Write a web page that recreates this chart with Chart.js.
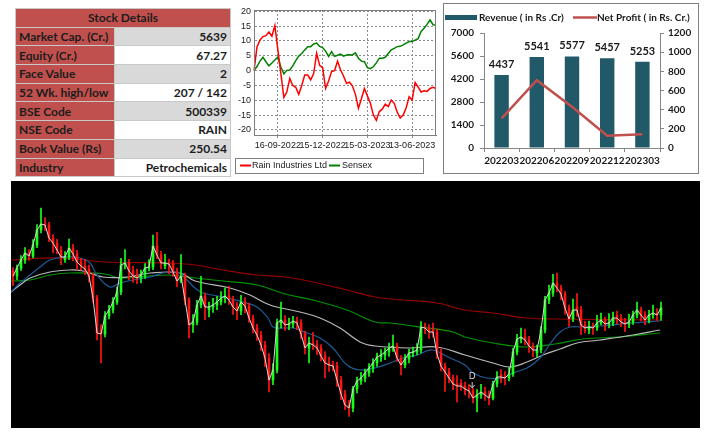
<!DOCTYPE html>
<html>
<head>
<meta charset="utf-8">
<script src="https://cdn.jsdelivr.net/npm/chart.js@4.4.1/dist/chart.umd.min.js"></script>
<style>
  body { margin: 0; background: #fff; width: 723px; height: 439px; position: relative; overflow: hidden; }
  #details { position: absolute; left: 15px; top: 8px; width: 215px; border-collapse: collapse; table-layout: fixed;
             font: bold 12px Lato, sans-serif; color: #1c1c1c; }
  #details th, #details td { height: 17.7px; padding: 0 3px; border: 1px solid #c8c8c8; white-space: nowrap; overflow: hidden; }
  #details th { background: #c0504d; text-align: center; }
  #details td.k { background: #c0504d; text-align: left; }
  #details td.v { text-align: right; }
  #details tr.g td.v { background: #d9d9d9; }
  #details tr.w td.v { background: #fff; }
  #perfBox { position: absolute; left: 235px; top: 0; }
  #resultBox { position: absolute; left: 443px; top: 3px; width: 256px; height: 171px; border: 1px solid #7f7f7f; box-sizing: border-box; }
  #priceChart { position: absolute; left: 11px; top: 181px; background: #000; }
</style>
</head>
<body>
<table id="details"><colgroup><col style="width:99px"><col style="width:116px"></colgroup><tbody></tbody></table>
<div id="perfBox"><canvas id="perfChart" width="210" height="180"></canvas></div>
<div id="resultBox"><canvas id="resultChart" width="254" height="169"></canvas></div>
<canvas id="priceChart" width="689" height="247"></canvas>
<script>
// ---- stock details table
const detailLabels = ['Market Cap. (Cr.)', 'Equity (Cr.)', 'Face Value', '52 Wk. high/low', 'BSE Code', 'NSE Code', 'Book Value (Rs)', 'Industry'];
const detailValues = ['5639', '67.27', '2', '207 / 142', '500339', 'RAIN', '250.54', 'Petrochemicals'];

// ---- relative performance (% change)
const perfDates = [
  '30-07-2022','05-08-2022','11-08-2022','17-08-2022','23-08-2022','29-08-2022','04-09-2022','10-09-2022','16-09-2022','22-09-2022',
  '28-09-2022','04-10-2022','10-10-2022','16-10-2022','22-10-2022','28-10-2022','03-11-2022','09-11-2022','15-11-2022','21-11-2022',
  '27-11-2022','03-12-2022','09-12-2022','15-12-2022','21-12-2022','27-12-2022','02-01-2023','08-01-2023','14-01-2023','20-01-2023',
  '26-01-2023','01-02-2023','07-02-2023','13-02-2023','19-02-2023','25-02-2023','03-03-2023','09-03-2023','15-03-2023','21-03-2023',
  '27-03-2023','02-04-2023','08-04-2023','14-04-2023','20-04-2023','26-04-2023','02-05-2023','08-05-2023','14-05-2023','20-05-2023',
  '26-05-2023','01-06-2023','07-06-2023','13-06-2023','19-06-2023','25-06-2023','01-07-2023','07-07-2023','13-07-2023','19-07-2023',
  '25-07-2023','31-07-2023'
];
const perfTickDates = ['16-09-2022', '15-12-2022', '15-03-2023', '13-06-2023'];
const perfYTicks = [-20, -15, -10, -5, 0, 5, 10, 15, 20];
const rainPct = [
  0.0, 8.0, 10.3, 11.5, 11.8, 13.0, 11.6, 15.2, 7.0, -1.0,
  -9.0, -7.2, -2.6, -5.0, -5.6, -8.0, -5.0, -1.5, -1.5, -3.1,
  -1.0, 5.8, 1.8, 1.0, -6.0, -3.5, -0.3, 0.0, 3.2, 0.3,
  -1.8, -4.3, -3.9, -5.2, -8.0, -12.7, -9.5, -6.0, -8.5, -11.0,
  -14.9, -16.8, -13.8, -13.0, -11.3, -12.1, -9.9, -11.0, -14.0, -16.0,
  -15.0, -12.5, -8.8, -9.9, -4.0, -5.5, -7.2, -6.8, -7.0, -6.0,
  -5.6, -6.0
];
const sensexPct = [
  0.0, 1.4, 3.2, 4.5, 3.0, 1.6, 2.6, 3.6, 4.6, 1.2,
  -1.1, 0.1, 0.2, 1.6, 3.4, 4.9, 5.8, 7.0, 8.1, 8.1,
  9.0, 9.3, 8.2, 7.8, 6.6, 4.8, 6.4, 4.8, 5.2, 5.6,
  4.9, 5.3, 5.4, 5.3, 6.0, 4.2, 3.2, 3.0, 1.0, 0.7,
  1.3, 2.6, 4.2, 4.2, 4.5, 5.8, 7.0, 7.5, 8.1, 8.2,
  8.7, 9.3, 9.8, 9.8, 10.3, 10.8, 13.2, 14.3, 15.6, 17.1,
  15.5, 15.4
];

// ---- quarterly results
const quarters = ['202203', '202206', '202209', '202212', '202303'];
const revenue = [4437, 5541, 5577, 5457, 5253];
const netProfit = [310, 708, 430, 128, 143];
const revenueTicks = [0, 1400, 2800, 4200, 5600, 7000];
const profitTicks = [0, 200, 400, 600, 800, 1000, 1200];

// ---- daily candles (price)
const candleOpen = [
  184.5, 183.1, 185.5, 187.9, 190.0, 189.1, 192.4, 196.9, 198.7, 198.4,
  194.5, 193.0, 190.9, 188.0, 188.8, 191.5, 189.7, 187.3, 186.1, 185.2,
  183.1, 176.5, 166.8, 165.7, 171.1, 172.9, 175.3, 178.3, 186.4, 187.0,
  184.6, 183.1, 182.5, 183.4, 185.5, 185.8, 192.1, 189.4, 186.2, 187.0,
  186.7, 184.3, 181.6, 183.1, 175.9, 168.4, 169.3, 174.4, 177.1, 173.0,
  173.8, 174.4, 175.3, 176.5, 177.1, 175.9, 173.8, 172.6, 175.3, 174.1,
  170.5, 167.5, 165.4, 162.4, 158.5, 151.9, 154.9, 169.0, 169.9, 168.4,
  168.7, 169.6, 169.0, 165.7, 161.5, 163.0, 162.4, 161.5, 159.1, 157.0,
  156.4, 156.1, 151.9, 147.7, 144.4, 143.5, 149.2, 151.6, 152.5, 154.0,
  155.5, 157.0, 158.8, 159.4, 160.3, 161.5, 162.1, 158.5, 156.4, 158.2,
  160.0, 160.3, 160.9, 167.8, 167.5, 167.0, 166.3, 159.7, 156.1, 154.3,
  152.5, 150.7, 150.9, 150.1, 149.2, 148.6, 146.5, 147.4, 148.3, 147.4,
  146.5, 150.7, 153.5, 152.8, 152.5, 153.7, 160.3, 164.2, 164.8, 163.9,
  162.1, 160.0, 160.9, 166.9, 175.9, 178.0, 181.0, 179.5, 177.7, 173.5,
  170.2, 173.8, 172.9, 168.4, 167.0, 167.8, 167.5, 169.0, 169.9, 168.7,
  169.0, 171.3, 170.5, 169.3, 168.7, 169.3, 171.4, 172.9, 171.4, 169.9,
  171.4, 172.0, 171.4
];
const candleHigh = [
  185.6, 186.4, 189.2, 191.6, 191.0, 194.0, 198.5, 203.5, 200.6, 199.2,
  195.5, 194.1, 192.0, 190.4, 194.2, 192.6, 190.8, 188.4, 188.0, 186.4,
  184.0, 177.3, 168.5, 172.4, 174.3, 176.6, 179.8, 188.4, 191.0, 188.1,
  186.0, 185.2, 184.9, 186.8, 188.0, 195.4, 196.2, 190.5, 189.6, 188.2,
  187.8, 185.5, 189.5, 184.0, 176.6, 171.5, 175.8, 183.0, 178.0, 175.3,
  176.4, 177.0, 178.4, 179.5, 180.0, 177.0, 175.2, 177.3, 176.6, 175.0,
  171.4, 168.6, 166.5, 163.5, 159.8, 156.8, 170.2, 175.3, 171.2, 170.5,
  171.0, 170.8, 170.0, 166.6, 164.8, 166.2, 163.8, 162.5, 160.4, 158.8,
  157.6, 157.2, 153.0, 148.8, 145.8, 150.0, 152.8, 154.2, 155.2, 156.8,
  158.3, 160.0, 161.0, 161.5, 163.0, 165.4, 163.0, 159.2, 159.5, 161.2,
  161.8, 162.8, 169.4, 169.0, 168.5, 169.0, 167.2, 161.2, 157.0, 155.4,
  153.4, 153.2, 152.0, 151.3, 150.5, 149.4, 149.0, 150.6, 149.8, 148.6,
  151.6, 154.4, 155.0, 154.4, 155.6, 161.5, 165.6, 167.5, 167.2, 165.0,
  163.0, 162.4, 168.0, 177.0, 180.4, 183.6, 184.0, 180.4, 178.5, 174.4,
  176.2, 177.8, 174.0, 169.6, 169.6, 169.0, 171.3, 172.0, 170.8, 171.8,
  172.3, 172.6, 171.5, 170.4, 171.6, 172.6, 175.3, 173.8, 172.4, 172.8,
  174.4, 173.3, 175.3
];
const candleLow = [
  180.2, 182.0, 184.8, 186.9, 187.8, 188.5, 191.6, 196.0, 196.8, 193.4,
  190.0, 189.8, 186.5, 187.2, 188.0, 187.6, 185.0, 184.9, 183.5, 181.3,
  175.2, 163.9, 157.0, 164.8, 170.2, 172.0, 174.6, 177.5, 185.2, 182.0,
  181.2, 180.8, 181.0, 182.4, 184.6, 185.0, 188.3, 185.2, 185.3, 183.8,
  183.0, 179.8, 181.0, 174.5, 164.5, 166.2, 168.4, 173.5, 170.0, 170.8,
  172.2, 173.0, 174.4, 175.0, 174.6, 171.6, 170.0, 171.5, 172.0, 169.2,
  166.0, 163.8, 160.8, 156.0, 148.3, 150.5, 154.0, 167.5, 166.8, 167.0,
  167.6, 167.0, 164.3, 159.7, 157.0, 161.0, 159.5, 157.6, 152.5, 154.5,
  154.6, 150.0, 146.0, 143.0, 141.0, 142.3, 148.0, 150.6, 151.3, 153.0,
  154.2, 156.0, 157.5, 158.0, 159.0, 160.5, 157.5, 153.4, 155.5, 157.0,
  158.8, 159.4, 160.0, 165.8, 164.4, 164.8, 158.4, 154.6, 148.5, 151.0,
  149.0, 145.3, 148.8, 147.4, 146.5, 145.0, 142.3, 146.4, 145.8, 144.4,
  145.9, 149.8, 151.0, 150.4, 151.6, 153.0, 159.4, 163.0, 162.4, 160.2,
  158.8, 158.8, 160.0, 166.0, 174.8, 177.0, 178.4, 176.0, 171.6, 168.0,
  169.4, 171.0, 165.5, 166.0, 165.8, 165.6, 166.8, 168.4, 166.7, 167.5,
  168.2, 168.8, 167.9, 166.4, 167.6, 168.6, 170.5, 169.6, 168.5, 169.0,
  170.4, 169.8, 169.8
];
const candleClose = [
  183.1, 185.5, 187.9, 190.0, 189.1, 192.4, 196.9, 198.7, 198.4, 194.5,
  193.0, 190.9, 188.8, 188.8, 191.5, 189.7, 187.3, 186.1, 185.2, 183.1,
  176.5, 166.0, 165.7, 171.1, 172.9, 175.3, 178.3, 186.4, 187.0, 184.6,
  183.1, 182.5, 183.4, 185.5, 185.8, 192.1, 189.4, 187.0, 187.0, 186.7,
  184.3, 181.6, 183.1, 175.9, 168.4, 169.3, 174.4, 177.1, 173.8, 173.8,
  174.4, 175.3, 176.5, 177.1, 175.9, 173.8, 172.6, 175.3, 174.1, 170.5,
  167.5, 165.4, 162.4, 158.5, 151.9, 154.9, 169.0, 169.9, 168.4, 168.7,
  169.6, 169.0, 165.7, 161.5, 163.0, 162.4, 161.5, 159.1, 157.0, 156.4,
  156.1, 151.9, 147.7, 144.4, 143.5, 149.2, 151.6, 152.5, 154.0, 155.5,
  157.0, 158.8, 159.4, 160.3, 161.5, 162.1, 158.5, 156.4, 158.2, 160.0,
  160.3, 160.9, 167.8, 167.5, 166.3, 166.3, 159.7, 156.1, 154.3, 152.5,
  150.7, 150.1, 150.1, 149.2, 148.6, 146.5, 147.4, 148.3, 147.4, 146.5,
  150.7, 152.8, 152.8, 152.5, 153.7, 160.3, 164.2, 164.8, 163.9, 162.1,
  160.9, 160.9, 166.9, 175.9, 178.0, 181.0, 179.5, 177.7, 173.5, 170.2,
  172.9, 172.9, 168.4, 167.5, 167.8, 167.5, 169.0, 169.9, 168.7, 169.0,
  170.5, 170.5, 169.3, 168.7, 169.3, 171.4, 172.9, 171.4, 169.9, 171.4,
  172.0, 171.4, 173.5
];

// moving averages, read at candle positions
const ma200At = [-0.5, 11.75, 23, 38.5, 45.5, 52.5, 61, 68, 75, 83.5, 90.5, 97.5, 106, 113, 120, 128.5, 135.5, 161.75];
const ma200 = [187.9, 188.5, 187.3, 187.0, 186.4, 184.9, 183.4, 182.8, 181.3, 178.9, 176.8, 175.9, 175.0, 172.9, 172.0, 170.5, 170.2, 169.9];
const ma100At = [-0.5, 4.25, 9.25, 14.25, 23, 26.75, 38.5, 45.5, 52.5, 61, 68, 75, 83.5, 90.5, 94.25, 101.75, 110, 113, 120, 128.5, 135.5, 142.5, 151, 161.75];
const ma100 = [181.6, 181.9, 183.4, 184.0, 183.7, 182.5, 183.4, 182.5, 181.6, 180.4, 177.7, 175.9, 172.9, 169.3, 169.0, 167.8, 166.3, 164.8, 163.0, 161.8, 162.7, 164.2, 164.8, 166.0];
const ma50At = [-0.5, 1.75, 4.25, 9.25, 14.25, 17.5, 22.5, 28.5, 34.25, 41.75, 45.5, 54.25, 59.25, 64.25, 71.75, 76.75, 81.75, 86.75, 90.5, 99.25, 106, 113, 120, 124.25, 128.5, 132.5, 136.75, 141, 146.75, 155, 161.75];
const ma50 = [178.3, 180.4, 182.5, 184.3, 184.9, 184.6, 182.8, 182.8, 184.0, 184.0, 181.6, 179.5, 177.4, 174.4, 172.3, 170.5, 167.5, 163.3, 162.1, 161.5, 161.8, 159.4, 157.0, 155.8, 157.3, 159.4, 161.2, 163.0, 163.9, 165.4, 166.9];
const ma20At = [-0.5, 1.75, 4.25, 6.75, 9.25, 13, 16.75, 19.25, 21, 24.25, 26.75, 30, 34.25, 38.5, 41.75, 43.5, 45.5, 47.5, 52.5, 57.5, 61, 63.75, 65, 68, 70, 73.5, 76.75, 80, 83.5, 86.75, 90.5, 94.25, 97.5, 101, 104.75, 109.25, 113, 115, 118.5, 122.5, 125, 128.5, 131.75, 134.25, 136.75, 139.25, 142.5, 146.75, 155, 161.75];
const ma20 = [178.3, 181.0, 183.4, 185.8, 187.9, 188.8, 188.5, 187.0, 183.4, 179.8, 181.0, 181.9, 182.8, 184.3, 184.0, 181.9, 179.5, 178.0, 176.8, 175.3, 173.8, 170.5, 167.8, 167.5, 167.5, 166.0, 164.5, 161.5, 156.4, 154.9, 155.5, 157.0, 158.5, 159.4, 160.9, 158.5, 156.4, 154.0, 152.5, 152.5, 154.0, 155.5, 158.5, 162.7, 166.3, 167.8, 167.8, 168.1, 169.0, 169.6];

const signalAt = 114.8;
const signalPrice = 152.8;
const signalText = 'D';

// ---- table
document.querySelector('#details tbody').innerHTML =
  '<tr><th colspan="2">Stock Details</th></tr>' +
  detailLabels.map((l, i) => `<tr class="${i % 2 ? 'w' : 'g'}"><td class="k">${l}</td><td class="v">${detailValues[i]}</td></tr>`).join('');

// ---- relative performance chart
const perfFrame = {
  id: 'perfFrame',
  afterDraw(chart) {
    const { ctx, chartArea: a } = chart;
    ctx.save();
    ctx.strokeStyle = '#7f7f7f';
    ctx.lineWidth = 1;
    ctx.strokeRect(a.left + 0.5, a.top + 0.5, a.right - a.left - 1, a.bottom - a.top);
    // legend box
    ctx.strokeRect(0.5, 158.5, 188, 15);
    ctx.font = '9px "Liberation Sans", Arial, sans-serif';
    ctx.fillStyle = '#1a1a1a';
    ctx.textBaseline = 'middle';
    const items = [[5, 16, 17], [94, 105, 107]];
    chart.data.datasets.forEach((ds, i) => {
      const [x0, x1, tx] = items[i];
      ctx.strokeStyle = ds.borderColor;
      ctx.lineWidth = 2;
      ctx.beginPath(); ctx.moveTo(x0, 165.5); ctx.lineTo(x1, 165.5); ctx.stroke();
      ctx.fillText(ds.label, tx, 166);
    });
    ctx.restore();
  }
};

new Chart(document.getElementById('perfChart'), {
  type: 'line',
  data: {
    labels: perfDates,
    datasets: [
      { label: 'Rain Industries Ltd', data: rainPct, borderColor: '#ff0000', borderWidth: 1.5, pointRadius: 0, tension: 0 },
      { label: 'Sensex', data: sensexPct, borderColor: '#008000', borderWidth: 1.5, pointRadius: 0, tension: 0 }
    ]
  },
  options: {
    responsive: false,
    animation: false,
    layout: { padding: { top: 10, right: 9, left: 0, bottom: 0 } },
    plugins: { legend: { display: false }, tooltip: { enabled: false } },
    scales: {
      x: {
        offset: false,
        grid: { color: '#8c8c8c', tickLength: 3 },
        border: { color: '#7f7f7f', dash: [2, 2] },
        ticks: {
          autoSkip: false, maxRotation: 0, minRotation: 0, padding: 2,
          color: '#1a1a1a', font: { family: '"Liberation Sans", Arial', size: 9 },
          callback: (v, i) => perfTickDates.includes(perfDates[i]) ? perfDates[i] : null
        },
        afterFit(s) { s.height = 45; }
      },
      y: {
        min: -21.7, max: 20.45,
        afterBuildTicks(s) { s.ticks = perfYTicks.map(v => ({ value: v })); },
        grid: { color: '#8c8c8c', drawTicks: false },
        border: { color: '#7f7f7f', dash: [2, 2] },
        ticks: { padding: 3, color: '#1a1a1a', font: { family: '"Liberation Sans", Arial', size: 9 } },
        afterFit(s) { s.width = 19; }
      }
    }
  },
  plugins: [perfFrame]
});

// ---- quarterly results chart
const boldFont = { family: 'Lato, sans-serif', size: 10, weight: 'bold' };
const plainNumber = v => String(v);
const resultLegend = {
  id: 'resultLegend',
  afterDraw(chart) {
    const { ctx } = chart;
    const [profit, rev] = chart.data.datasets;
    ctx.save();
    ctx.font = 'bold 10px Lato, sans-serif';
    ctx.textBaseline = 'middle';
    ctx.fillStyle = rev.backgroundColor;
    ctx.fillRect(1, 11, 32, 5);
    ctx.fillStyle = '#1a1a1a';
    ctx.fillText(rev.label, 35, 13.5);
    ctx.strokeStyle = profit.borderColor;
    ctx.lineWidth = 2.5;
    ctx.beginPath(); ctx.moveTo(129, 13.5); ctx.lineTo(153, 13.5); ctx.stroke();
    ctx.fillText(profit.label, 153, 13.5);
    ctx.restore();
  }
};
const barValueLabels = {
  id: 'barValueLabels',
  afterDatasetsDraw(chart) {
    const { ctx } = chart;
    const meta = chart.getDatasetMeta(1);
    ctx.save();
    ctx.font = 'bold 11px Lato, sans-serif';
    ctx.fillStyle = '#1a1a1a';
    ctx.textAlign = 'center';
    ctx.textBaseline = 'bottom';
    meta.data.forEach((bar, i) => ctx.fillText(revenue[i], bar.x, bar.y - 5));
    ctx.restore();
  }
};

new Chart(document.getElementById('resultChart'), {
  type: 'bar',
  data: {
    labels: quarters,
    datasets: [
      { type: 'line', label: 'Net Profit ( in Rs. Cr.)', data: netProfit, yAxisID: 'y1', borderColor: '#c0504d',
        borderWidth: 2.5, pointRadius: 0, tension: 0, order: 0 },
      { label: 'Revenue ( in Rs .Cr)', data: revenue, yAxisID: 'y', backgroundColor: '#215968',
        categoryPercentage: 1, barPercentage: 0.41, order: 1 }
    ]
  },
  options: {
    responsive: false,
    animation: false,
    layout: { padding: { top: 29, left: 0, right: 0, bottom: 0 } },
    plugins: { legend: { display: false }, tooltip: { enabled: false } },
    scales: {
      x: {
        grid: { drawOnChartArea: false, tickLength: 4, color: '#868686' },
        border: { color: '#868686' },
        ticks: { font: boldFont, color: '#1a1a1a', padding: 3, maxRotation: 0, autoSkip: false },
        afterFit(s) { s.height = 25; }
      },
      y: {
        position: 'left', min: 0, max: 7000,
        afterBuildTicks(s) { s.ticks = revenueTicks.map(v => ({ value: v })); },
        grid: { drawOnChartArea: false, tickLength: 4, color: '#868686' },
        border: { color: '#868686' },
        ticks: { font: boldFont, color: '#1a1a1a', padding: 6, callback: plainNumber },
        afterFit(s) { s.width = 40; }
      },
      y1: {
        position: 'right', min: 0, max: 1200,
        afterBuildTicks(s) { s.ticks = profitTicks.map(v => ({ value: v })); },
        grid: { drawOnChartArea: false, tickLength: 4, color: '#868686' },
        border: { color: '#868686' },
        ticks: { font: boldFont, color: '#1a1a1a', padding: 4, callback: plainNumber },
        afterFit(s) { s.width = 38; }
      }
    }
  },
  plugins: [resultLegend, barValueLabels]
});

// ---- candlestick chart
const upColor = '#1aff1a';
const downColor = '#ff1414';
const candleColor = ctx => candleClose[ctx.dataIndex] >= candleOpen[ctx.dataIndex] ? upColor : downColor;
const maLine = (label, at, vals, color, order) => ({
  type: 'line', label, data: at.map((x, i) => ({ x, y: vals[i] })),
  borderColor: color, borderWidth: 1.2, pointRadius: 0, tension: 0.4, order
});

const signalMarker = {
  id: 'signalMarker',
  afterDatasetsDraw(chart) {
    const { ctx, scales } = chart;
    const x = scales.x.getPixelForValue(signalAt);
    const y = scales.y.getPixelForValue(signalPrice);
    ctx.save();
    ctx.fillStyle = '#d0d0d0';
    ctx.strokeStyle = '#d0d0d0';
    ctx.font = '9px "DejaVu Sans", sans-serif';
    ctx.textAlign = 'center';
    ctx.textBaseline = 'middle';
    ctx.fillText(signalText, x, y);
    ctx.lineWidth = 1;
    ctx.beginPath(); ctx.moveTo(x, y + 5); ctx.lineTo(x, y + 10); ctx.stroke();
    ctx.beginPath(); ctx.moveTo(x - 2.5, y + 8); ctx.lineTo(x, y + 11); ctx.lineTo(x + 2.5, y + 8); ctx.stroke();
    ctx.restore();
  }
};

new Chart(document.getElementById('priceChart'), {
  type: 'bar',
  data: {
    datasets: [
      { type: 'line', label: 'Close', data: candleClose.map((c, i) => ({ x: i, y: c })),
        borderColor: '#d8d8d8', borderWidth: 1, pointRadius: 0, tension: 0, order: 0 },
      { label: 'Body', data: candleOpen.map((o, i) => ({ x: i, y: [o, candleClose[i]] })),
        backgroundColor: candleColor, barThickness: 2, grouped: false, minBarLength: 1, order: 1 },
      { label: 'Wick', data: candleLow.map((l, i) => ({ x: i, y: [l, candleHigh[i]] })),
        backgroundColor: candleColor, barThickness: 1, grouped: false, order: 2 },
      maLine('MA 20', ma20At, ma20, '#1d5c99', 3),
      maLine('MA 50', ma50At, ma50, '#b9b9b9', 4),
      maLine('MA 100', ma100At, ma100, '#009400', 5),
      maLine('MA 200', ma200At, ma200, '#950000', 6)
    ]
  },
  options: {
    responsive: false,
    animation: false,
    layout: { padding: 0 },
    plugins: { legend: { display: false }, tooltip: { enabled: false } },
    scales: {
      x: { type: 'linear', display: false, offset: false, min: -0.5, max: 171.75 },
      y: { display: false, min: 137.5, max: 211.6 }
    }
  },
  plugins: [signalMarker]
});
</script>
</body>
</html>
